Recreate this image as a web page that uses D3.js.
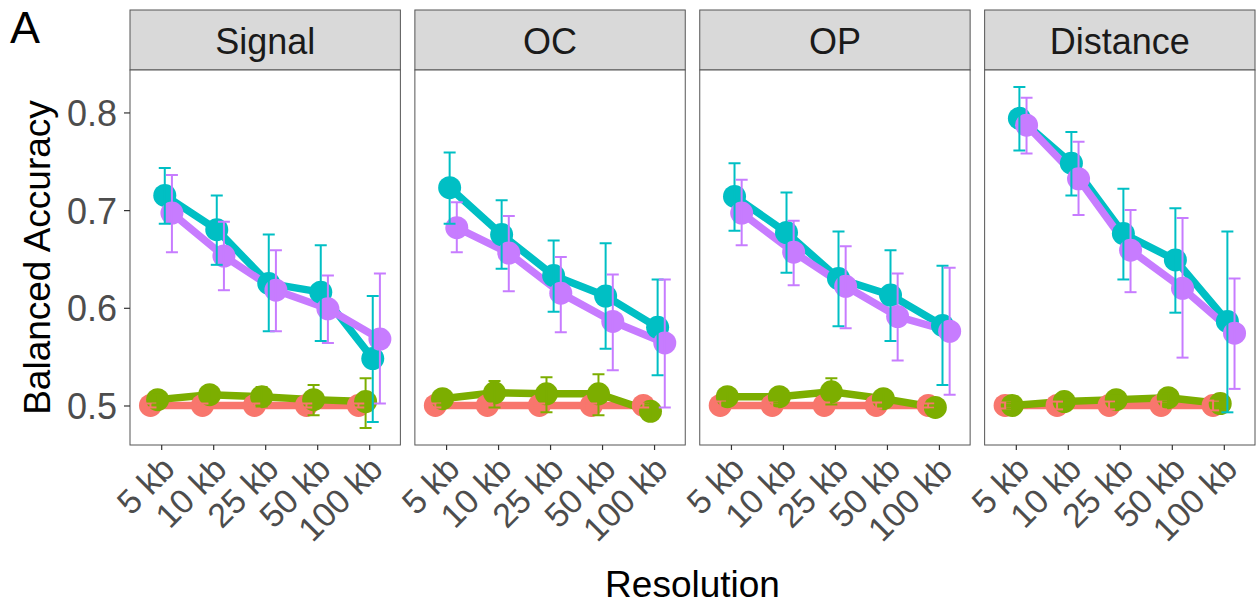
<!DOCTYPE html>
<html>
<head>
<meta charset="utf-8">
<script src="https://cdn.jsdelivr.net/npm/d3@7"></script>
<style>
  body { margin: 0; background: #fff; }
  svg { display: block; font-family: "Liberation Sans", Arial, sans-serif; }
</style>
</head>
<body>
<svg id="chart" width="1256" height="607"></svg>
<script>
// Facets, resolutions and groups
const facets = ["Signal", "OC", "OP", "Distance"];
const resolutions = ["5 kb", "10 kb", "25 kb", "50 kb", "100 kb"];
const groups = ["g1", "g2", "g3", "g4"];
const groupColors = ["#F8766D", "#7CAE00", "#00BFC4", "#C77CFF"];
const yTicks = [0.5, 0.6, 0.7, 0.8];

// Mean balanced accuracy, one row per group, one column per resolution
const meanSignal = [
  [0.500, 0.500, 0.500, 0.500, 0.500],
  [0.506, 0.511, 0.509, 0.506, 0.504],
  [0.715, 0.680, 0.625, 0.616, 0.548],
  [0.697, 0.653, 0.618, 0.599, 0.568]
];
const lowSignal = [
  [0.498, 0.498, 0.498, 0.498, 0.498],
  [0.501, 0.505, 0.499, 0.490, 0.477],
  [0.686, 0.644, 0.576, 0.566, 0.483],
  [0.657, 0.618, 0.576, 0.564, 0.502]
];
const highSignal = [
  [0.502, 0.502, 0.502, 0.502, 0.502],
  [0.511, 0.517, 0.519, 0.521, 0.528],
  [0.743, 0.715, 0.675, 0.664, 0.612],
  [0.736, 0.688, 0.659, 0.633, 0.635]
];

const meanOC = [
  [0.500, 0.500, 0.500, 0.500, 0.500],
  [0.507, 0.513, 0.512, 0.512, 0.494],
  [0.723, 0.675, 0.633, 0.612, 0.580],
  [0.682, 0.656, 0.615, 0.586, 0.564]
];
const lowOC = [
  [0.498, 0.498, 0.498, 0.498, 0.498],
  [0.501, 0.498, 0.493, 0.490, 0.486],
  [0.686, 0.640, 0.596, 0.558, 0.531],
  [0.657, 0.617, 0.575, 0.536, 0.498]
];
const highOC = [
  [0.502, 0.502, 0.502, 0.502, 0.502],
  [0.513, 0.525, 0.529, 0.532, 0.502],
  [0.759, 0.710, 0.669, 0.666, 0.629],
  [0.708, 0.694, 0.652, 0.634, 0.629]
];

const meanOP = [
  [0.500, 0.500, 0.500, 0.500, 0.500],
  [0.509, 0.509, 0.514, 0.507, 0.498],
  [0.714, 0.677, 0.630, 0.613, 0.582],
  [0.697, 0.657, 0.622, 0.591, 0.576]
];
const lowOP = [
  [0.496, 0.497, 0.497, 0.497, 0.498],
  [0.503, 0.503, 0.501, 0.500, 0.496],
  [0.679, 0.636, 0.581, 0.566, 0.521],
  [0.664, 0.623, 0.579, 0.546, 0.511]
];
const highOP = [
  [0.504, 0.503, 0.503, 0.503, 0.502],
  [0.515, 0.515, 0.528, 0.514, 0.500],
  [0.748, 0.718, 0.678, 0.659, 0.643],
  [0.731, 0.689, 0.663, 0.635, 0.641]
];

const meanDistance = [
  [0.500, 0.500, 0.500, 0.500, 0.500],
  [0.500, 0.504, 0.506, 0.508, 0.502],
  [0.794, 0.748, 0.676, 0.649, 0.586],
  [0.787, 0.732, 0.659, 0.620, 0.574]
];
const lowDistance = [
  [0.497, 0.496, 0.496, 0.496, 0.495],
  [0.497, 0.500, 0.502, 0.504, 0.498],
  [0.761, 0.715, 0.629, 0.595, 0.493],
  [0.758, 0.695, 0.616, 0.549, 0.517]
];
const highDistance = [
  [0.503, 0.504, 0.504, 0.504, 0.505],
  [0.503, 0.508, 0.510, 0.512, 0.506],
  [0.826, 0.780, 0.722, 0.702, 0.678],
  [0.815, 0.770, 0.700, 0.692, 0.630]
];

const means = [meanSignal, meanOC, meanOP, meanDistance];
const lows = [lowSignal, lowOC, lowOP, lowDistance];
const highs = [highSignal, highOC, highOP, highDistance];

// Layout
const plotLeft = 130, plotRight = 1255, gap = 14.5;
const stripTop = 10, panelTop = 70, panelBottom = 445;
const panelW = (plotRight - plotLeft - gap * (facets.length - 1)) / facets.length;
const dodgeWidth = 0.55;
const pointR = 11.5, lineW = 7.5, capHalf = 6;
const textGray = "#4D4D4D", borderCol = "#555";
const fontSize = 36, titleSize = 37, xTickSize = 34;

const svg = d3.select("#chart");

// Shared y scale, expanded by 5% on each side of the data range
const allVals = [lows, highs, means].flat(3);
const [ymin, ymax] = d3.extent(allVals);
const pad = (ymax - ymin) * 0.05;
const y = d3.scaleLinear().domain([ymin - pad, ymax + pad]).range([panelBottom, panelTop]);

facets.forEach((facet, fi) => {
  const x0 = plotLeft + fi * (panelW + gap);
  const x = d3.scalePoint().domain(resolutions).range([x0, x0 + panelW]).padding(0.6);
  const step = x.step();
  const dx = gi => (gi - (groups.length - 1) / 2) * dodgeWidth / groups.length * step;

  const g = svg.append("g");

  // Strip
  g.append("rect")
    .attr("x", x0).attr("y", stripTop)
    .attr("width", panelW).attr("height", panelTop - stripTop)
    .attr("fill", "#D9D9D9").attr("stroke", borderCol).attr("stroke-width", 1);
  g.append("text")
    .attr("x", x0 + panelW / 2).attr("y", 54)
    .attr("text-anchor", "middle")
    .attr("font-size", fontSize).attr("fill", "#1A1A1A")
    .text(facet);

  // Panel background and content clip
  g.append("rect")
    .attr("x", x0).attr("y", panelTop)
    .attr("width", panelW).attr("height", panelBottom - panelTop)
    .attr("fill", "#fff");

  const clipId = "clip" + fi;
  svg.append("clipPath").attr("id", clipId)
    .append("rect").attr("x", x0).attr("y", panelTop)
    .attr("width", panelW).attr("height", panelBottom - panelTop);
  const body = g.append("g").attr("clip-path", `url(#${clipId})`);

  const rows = groups.map((grp, gi) => resolutions.map((r, ri) => ({
    gi, r,
    m: means[fi][gi][ri], lo: lows[fi][gi][ri], hi: highs[fi][gi][ri]
  })));

  const line = d3.line().x(d => x(d.r) + dx(d.gi)).y(d => y(d.m));

  // Lines
  body.selectAll("path.series").data(rows).join("path")
    .attr("class", "series")
    .attr("d", line)
    .attr("fill", "none")
    .attr("stroke", (d, i) => groupColors[i])
    .attr("stroke-width", lineW)
    .attr("stroke-linejoin", "round");

  // Points
  rows.forEach((row, gi) => {
    body.selectAll(null).data(row).join("circle")
      .attr("cx", d => x(d.r) + dx(d.gi))
      .attr("cy", d => y(d.m))
      .attr("r", pointR)
      .attr("fill", groupColors[gi]);
  });

  // Error bars
  rows.forEach((row, gi) => {
    const eb = body.selectAll(null).data(row).join("g")
      .attr("stroke", groupColors[gi]).attr("stroke-width", 2);
    eb.append("line")
      .attr("x1", d => x(d.r) + dx(d.gi)).attr("x2", d => x(d.r) + dx(d.gi))
      .attr("y1", d => y(d.lo)).attr("y2", d => y(d.hi));
    eb.append("line")
      .attr("x1", d => x(d.r) + dx(d.gi) - capHalf).attr("x2", d => x(d.r) + dx(d.gi) + capHalf)
      .attr("y1", d => y(d.lo)).attr("y2", d => y(d.lo));
    eb.append("line")
      .attr("x1", d => x(d.r) + dx(d.gi) - capHalf).attr("x2", d => x(d.r) + dx(d.gi) + capHalf)
      .attr("y1", d => y(d.hi)).attr("y2", d => y(d.hi));
  });

  // Panel border
  g.append("rect")
    .attr("x", x0).attr("y", panelTop)
    .attr("width", panelW).attr("height", panelBottom - panelTop)
    .attr("fill", "none").attr("stroke", borderCol).attr("stroke-width", 1);

  // Bottom axis
  const xAxis = g.append("g")
    .attr("transform", `translate(0,${panelBottom})`)
    .call(d3.axisBottom(x).tickSize(5).tickSizeOuter(0));
  xAxis.select(".domain").remove();
  xAxis.selectAll(".tick line").attr("stroke", "#333").attr("stroke-width", 1.2);
  xAxis.selectAll(".tick text")
    .attr("font-size", xTickSize)
    .attr("font-family", "Liberation Sans, Arial, sans-serif")
    .attr("fill", textGray)
    .attr("text-anchor", "end")
    .attr("x", 0).attr("y", 0).attr("dy", 0)
    .attr("transform", "translate(15,26) rotate(-45)");

  // Left axis on the first panel only
  if (fi === 0) {
    const yAxis = g.append("g")
      .attr("transform", `translate(${x0},0)`)
      .call(d3.axisLeft(y).tickValues(yTicks).tickFormat(d3.format(".1f")).tickSize(6).tickSizeOuter(0));
    yAxis.select(".domain").remove();
    yAxis.selectAll(".tick line").attr("stroke", "#333").attr("stroke-width", 1.2);
    yAxis.selectAll(".tick text")
      .attr("font-size", fontSize)
      .attr("font-family", "Liberation Sans, Arial, sans-serif")
      .attr("fill", textGray)
      .attr("x", -13).attr("dy", "0.36em");
  }
});

// Axis titles and panel tag
svg.append("text")
  .attr("transform", `translate(50,${(panelTop + panelBottom) / 2}) rotate(-90)`)
  .attr("text-anchor", "middle")
  .attr("font-size", titleSize).attr("fill", "#000")
  .text("Balanced Accuracy");

svg.append("text")
  .attr("x", (plotLeft + plotRight) / 2).attr("y", 597)
  .attr("text-anchor", "middle")
  .attr("font-size", titleSize).attr("fill", "#000")
  .text("Resolution");

svg.append("text")
  .attr("x", 10).attr("y", 43)
  .attr("font-size", 45).attr("fill", "#000")
  .text("A");
</script>
</body>
</html>
